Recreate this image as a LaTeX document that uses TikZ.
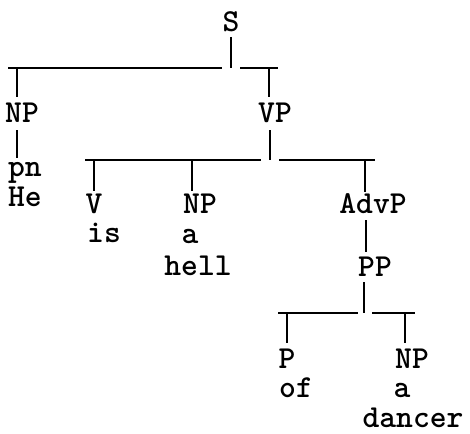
\documentclass[tikz,border=0pt]{standalone}
\usepackage{fontspec}
\begin{document}
\begin{tikzpicture}[x=1pt,y=-1pt,
  lbl/.style={inner sep=0pt,anchor=base,text depth=0pt,font=\ttfamily\bfseries\fontsize{32}{32}\selectfont},
  edge/.style={line width=2pt,black}]
\useasboundingbox (0,0) rectangle (470,433);
% labels
\node[lbl] (S) at (231,32) {S};
\node[lbl] (NP1) at (22,122) {NP};
\node[lbl] (VP) at (275,122) {VP};
\node[lbl] (pn) at (25,176) {pn};
\node[lbl] (He) at (25,206) {He};
\node[lbl] (V) at (94,213) {V};
\node[lbl] (NP2) at (200,213) {NP};
\node[lbl] (AdvP) at (373,213) {AdvP};
\node[lbl] (is) at (104,242) {is};
\node[lbl] (a1) at (190,243) {a};
\node[lbl] (hell) at (198,275) {hell};
\node[lbl] (PP) at (375,276) {PP};
\node[lbl] (P) at (287,368) {P};
\node[lbl] (NP3) at (412,368) {NP};
\node[lbl] (of) at (296,397) {of};
\node[lbl] (a2) at (402,397) {a};
\node[lbl] (dancer) at (413,427) {dancer};
% junction coordinates
\coordinate (s1) at (231,37);  \coordinate (s2) at (231,68);
\coordinate (b1a) at (8,68);   \coordinate (b1b) at (222,68);
\coordinate (b1c) at (240,68); \coordinate (b1d) at (278,68);
\coordinate (n1t) at (17,68);  \coordinate (n1b) at (17,97);
\coordinate (v1t) at (269,68); \coordinate (v1b) at (269,97);
\coordinate (n1d) at (17,130); \coordinate (n1e) at (17,158);
\coordinate (vpd) at (270,130); \coordinate (vpe) at (270,160);
\coordinate (b2a) at (85,160); \coordinate (b2b) at (261,160);
\coordinate (b2c) at (279,160); \coordinate (b2d) at (375,160);
\coordinate (vt) at (94,160);  \coordinate (vb) at (94,191);
\coordinate (n2t) at (192,160); \coordinate (n2b) at (192,191);
\coordinate (at) at (365,160); \coordinate (ab) at (365,192);
\coordinate (ad) at (366,220); \coordinate (ae) at (366,252);
\coordinate (pd) at (364,282); \coordinate (pe) at (364,313);
\coordinate (b3a) at (278,313); \coordinate (b3b) at (358,313);
\coordinate (b3c) at (372,313); \coordinate (b3d) at (415,313);
\coordinate (pt) at (287,313); \coordinate (pb) at (287,343);
\coordinate (n3t) at (405,313); \coordinate (n3b) at (405,343);
% connectors
\draw[edge] (s1) -- (s2);
\draw[edge] (b1a) -- (b1b);
\draw[edge] (b1c) -- (b1d);
\draw[edge] (n1t) -- (n1b);
\draw[edge] (v1t) -- (v1b);
\draw[edge] (n1d) -- (n1e);
\draw[edge] (vpd) -- (vpe);
\draw[edge] (b2a) -- (b2b);
\draw[edge] (b2c) -- (b2d);
\draw[edge] (vt) -- (vb);
\draw[edge] (n2t) -- (n2b);
\draw[edge] (at) -- (ab);
\draw[edge] (ad) -- (ae);
\draw[edge] (pd) -- (pe);
\draw[edge] (b3a) -- (b3b);
\draw[edge] (b3c) -- (b3d);
\draw[edge] (pt) -- (pb);
\draw[edge] (n3t) -- (n3b);
\end{tikzpicture}
\end{document}
